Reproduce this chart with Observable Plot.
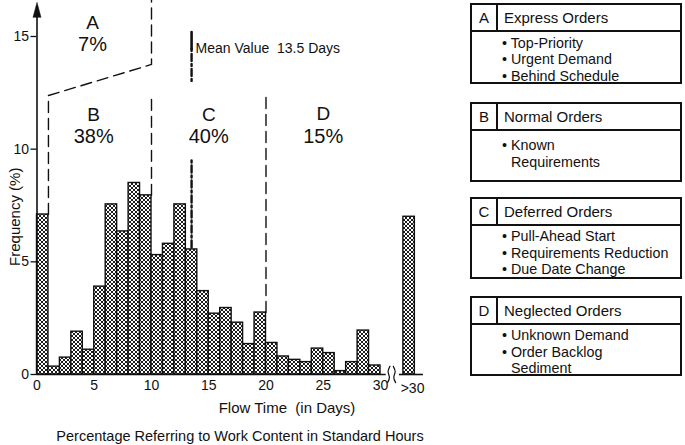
<!DOCTYPE html>
<html><head><meta charset="utf-8">
<script src="https://cdn.jsdelivr.net/npm/d3@7"></script>
<script src="https://cdn.jsdelivr.net/npm/@observablehq/plot@0.6"></script>
<style>
body{margin:0;background:#fff;font-family:"Liberation Sans",Arial,sans-serif;color:#111}
#wrap{position:relative;width:685px;height:445px;overflow:hidden}
#chart{position:absolute;left:0;top:0}
.box{position:absolute;left:470px;width:212px;border:2px solid #111;box-sizing:border-box}
.hdr{display:flex;height:27px;border-bottom:2px solid #111;box-sizing:border-box;font-size:15px;align-items:center}
.ltr{width:26px;border-right:2px solid #111;height:100%;display:flex;align-items:center;justify-content:center;box-sizing:border-box}
.ttl{padding-left:6px}
.items{padding-left:30px;font-size:14.3px;line-height:16.5px;white-space:pre-line}
.items div{padding-left:9px;text-indent:-9px}
.lbl{position:absolute;white-space:pre;transform:translate(-50%,-50%)}
</style>
</head><body>
<div id="wrap"><div id="chart"></div></div>
<script>
// ---- data ----
const binStarts = [0,1,2,3,4,5,6,7,8,9,10,11,12,13,14,15,16,17,18,19,20,21,22,23,24,25,26,27,28,29];
const freq = [7.1,0.35,0.75,1.9,1.1,3.9,7.55,6.35,8.5,7.95,5.3,5.8,7.55,5.55,3.7,2.7,2.95,2.3,1.35,2.75,1.4,0.8,0.65,0.55,1.15,0.95,0.15,0.55,1.95,0.4];
const over30Freq = 7.0;
const xTicks = [0,5,10,15,20,25,30];
const yTicks = [0,5,10,15];
const over30Label = ">30";
const meanDays = 13.5;
const meanLabel = "Mean Value  13.5 Days";
const groups = ["A","B","C","D"];
const groupShares = ["7%","38%","40%","15%"];
const groupTitles = ["Express Orders","Normal Orders","Deferred Orders","Neglected Orders"];
const groupItems = [
  ["Top-Priority","Urgent Demand","Behind Schedule"],
  ["Known\nRequirements"],
  ["Pull-Ahead Start","Requirements Reduction","Due Date Change"],
  ["Unknown Demand","Order Backlog\nSediment"]
];
const xLabel = "Flow Time  (in Days)";
const yLabel = "Frequency (%)";
const caption = "Percentage Referring to Work Content in Standard Hours";

// ---- layout ----
const bins = binStarts.map((s,i)=>({start:s,end:s+1,freq:freq[i]}));
const overBin = [{start:32,end:33,freq:over30Freq}];
const ink = "#111";
const FONT = '"Liberation Sans", Arial, sans-serif';

const boundaryAB = [[1,freq[0]],[1,12.38],[10,13.76],[10,16.7]];
const boundaryBC = [[10,freq[9]],[10,12.38]];
const boundaryCD = [[20,freq[19]],[20,12.47]];
const meanSolid = [[meanDays,15.2],[meanDays,14.45]];
const meanUpper = [[meanDays,14.45],[meanDays,12.9]];
const meanLower = [[meanDays,9.5],[meanDays,freq[13]]];
const breakMarks = [
  {k:1,x:30.62,y:-0.36},{k:1,x:30.78,y:-0.12},{k:1,x:30.66,y:0.12},{k:1,x:30.82,y:0.36},
  {k:2,x:31.32,y:-0.36},{k:2,x:31.16,y:-0.12},{k:2,x:31.28,y:0.12},{k:2,x:31.12,y:0.36}
];
const arrowHead = {draw(ctx){ctx.moveTo(-4,0);ctx.lineTo(0,-15);ctx.lineTo(4,0);ctx.closePath();}};

const groupPos = [{x:4.85,y1:15.62,y2:14.62},{x:4.95,y1:11.5,y2:10.56},{x:15.0,y1:11.5,y2:10.56},{x:25.0,y1:11.55,y2:10.56}];
const groupLabelData = groups.map((g,i)=>({g,share:groupShares[i],x:groupPos[i].x,y1:groupPos[i].y1,y2:groupPos[i].y2}));

const dash = {stroke:ink, strokeWidth:1.4, strokeDasharray:"11,6"};

const svg = Plot.plot({
  width:685, height:445,
  marginLeft:36.5, marginRight:305, marginTop:36, marginBottom:71,
  x:{domain:[0,30]}, y:{domain:[0,15]},
  style:{fontFamily:FONT, fontSize:"14px", color:ink, background:"transparent", overflow:"visible"},
  marks:[
    Plot.rectY(bins,{x1:"start",x2:"end",y:"freq",fill:"url(#hatch)",stroke:ink,strokeWidth:1.4}),
    Plot.rectY(overBin,{x1:"start",x2:"end",y:"freq",fill:"url(#hatch)",stroke:ink,strokeWidth:1.4}),
    Plot.ruleY([0],{x1:0,x2:30.5,stroke:ink,strokeWidth:1.6}),
    Plot.ruleY([0],{x1:31.65,x2:33.75,stroke:ink,strokeWidth:1.6}),
    Plot.line(breakMarks,{x:"x",y:"y",z:"k",curve:"natural",stroke:ink,strokeWidth:1.2}),
    Plot.ruleX([0],{y1:0,y2:15.9,stroke:ink,strokeWidth:1.6}),
    Plot.dot([0],{x:0,y:15.85,symbol:arrowHead,fill:ink,stroke:ink,strokeWidth:0.5}),
    Plot.axisY({ticks:yTicks,tickSize:6,tickPadding:2,label:null,fontSize:14,stroke:ink,strokeWidth:1.3}),
    Plot.axisX({ticks:xTicks,tickSize:0,tickPadding:6,label:null,fontSize:14}),
    Plot.text([over30Label],{x:32.8,y:0,dy:14,text:d=>d,fontSize:14,fill:ink}),
    Plot.text([yLabel],{x:0,y:7.0,dx:-22,rotate:-90,text:d=>d,fontSize:15,fill:ink}),
    Plot.line(boundaryAB,{x:d=>d[0],y:d=>d[1],...dash}),
    Plot.line(boundaryBC,{x:d=>d[0],y:d=>d[1],...dash}),
    Plot.line(boundaryCD,{x:d=>d[0],y:d=>d[1],...dash}),
    Plot.line(meanSolid,{x:d=>d[0],y:d=>d[1],stroke:ink,strokeWidth:2.6}),
    Plot.line(meanUpper,{x:d=>d[0],y:d=>d[1],stroke:ink,strokeWidth:2.4,strokeDasharray:"2,3,7,3"}),
    Plot.line(meanLower,{x:d=>d[0],y:d=>d[1],stroke:ink,strokeWidth:2.4,strokeDasharray:"2,3,7,3"}),
    Plot.text([meanLabel],{x:meanDays,y:14.47,dx:4,text:d=>d,textAnchor:"start",fontSize:14,fill:ink}),
    Plot.text(groupLabelData,{x:"x",y:"y1",text:"g",fontSize:19,fill:ink}),
    Plot.text(groupLabelData,{x:"x",y:"y2",text:"share",fontSize:20,fill:ink})
  ]
});
const defs = document.createElementNS("http://www.w3.org/2000/svg","defs");
defs.innerHTML = '<pattern id="hatch" patternUnits="userSpaceOnUse" width="4" height="4"><rect width="4" height="4" fill="#fff"/><path d="M-1,-1L5,5M-1,5L5,-1" stroke="#111" stroke-width="0.95"/></pattern>';
svg.prepend(defs);
document.getElementById("chart").appendChild(svg);

// ---- legend boxes & bottom labels (HTML overlay) ----
const wrap = document.getElementById("wrap");
const boxTop = [3,102,197,296];
const boxH = [81,80,82,80];
const padTop = [2.5,6,2,2];
groups.forEach((g,i)=>{
  const box = document.createElement("div");
  box.className = "box";
  box.style.top = boxTop[i]+"px";
  box.style.height = boxH[i]+"px";
  const items = groupItems[i].map(t=>"<div>• "+t+"</div>").join("");
  box.innerHTML = '<div class="hdr"><div class="ltr">'+g+'</div><div class="ttl">'+groupTitles[i]+'</div></div>'+
    '<div class="items" style="padding-top:'+padTop[i]+'px">'+items+'</div>';
  wrap.appendChild(box);
});
function addLabel(text,cx,cy,size){
  const d = document.createElement("div");
  d.className="lbl"; d.textContent=text;
  d.style.left=cx+"px"; d.style.top=cy+"px"; d.style.fontSize=size+"px";
  wrap.appendChild(d);
}
addLabel(xLabel,287,407,15);
addLabel(caption,240,436,14.5);
</script>
</body></html>
